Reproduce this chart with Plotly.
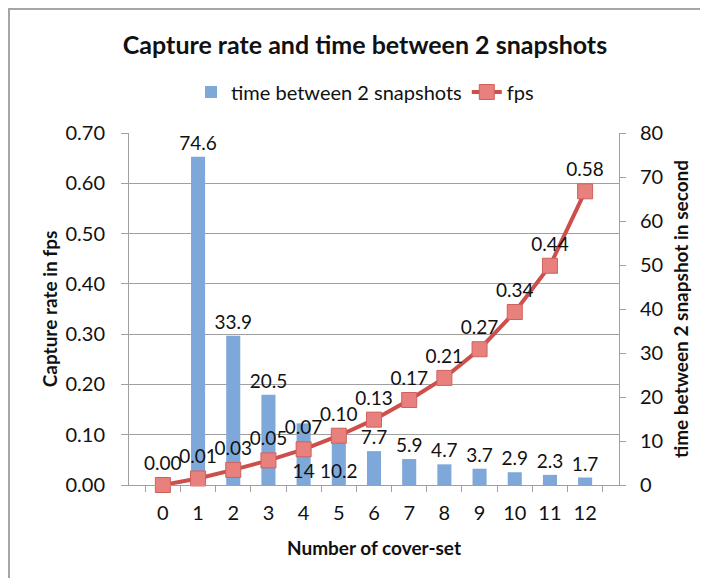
import plotly.graph_objects as go

# data
cover_sets = ["0", "1", "2", "3", "4", "5", "6", "7", "8", "9", "10", "11", "12"]
time_between = [None, 74.6, 33.9, 20.5, 14, 10.2, 7.7, 5.9, 4.7, 3.7, 2.9, 2.3, 1.7]
fps = [0.0, 0.013, 0.030, 0.049, 0.071, 0.098, 0.130, 0.169, 0.213, 0.270, 0.344, 0.436, 0.584]
# Excel pushed two of the bar labels down to the base of the bar
bar_label_pos = ["outside", "outside", "outside", "outside", "inside", "inside",
                 "outside", "outside", "outside", "outside", "outside", "outside", "outside"]

FONT = "Lato"
W, H = 708, 578
# the page adds an 8px body margin, so screen = figure + 8
L, R, T, B = 121, 97, 125, 101

fig = go.Figure()
fig.add_trace(go.Bar(
    x=cover_sets, y=time_between, name="time between 2 snapshots",
    yaxis="y", width=0.4,
    marker=dict(color="#7FA8DA", line=dict(width=0)),
    texttemplate="%{y}", textposition=bar_label_pos, textangle=0,
    insidetextanchor="start", constraintext="none",
    textfont=dict(size=19, color="#111111", family=FONT),
    cliponaxis=False))
fig.add_trace(go.Scatter(
    x=cover_sets, y=fps, name="fps", yaxis="y2",
    mode="lines+markers+text",
    line=dict(color="#CD4F4B", width=4),
    marker=dict(symbol="square", size=15, color="#E8807D",
                line=dict(color="#D0605C", width=1)),
    texttemplate="%{y:.2f}", textposition="top center",
    textfont=dict(size=19, color="#111111", family=FONT),
    cliponaxis=False))

def px_x(x):
    return (x - L) / (W - L - R)

def px_y(y):
    return (H - B - y) / (H - T - B)

fig.update_layout(
    width=W, height=H,
    margin=dict(l=L, r=R, t=T, b=B, pad=0, autoexpand=False),
    paper_bgcolor="white", plot_bgcolor="white",
    font=dict(family=FONT, size=19, color="#111111"),
    title=dict(text="<b>Capture rate and time between 2 snapshots</b>",
               font=dict(size=25, family=FONT, color="#111111"),
               x=357 / W, xanchor="center", y=1 - 37 / H, yanchor="middle",
               xref="container", yref="container"),
    legend=dict(orientation="h", x=px_x(357), xanchor="center",
                y=px_y(84), yanchor="middle", font=dict(size=20),
                bgcolor="rgba(0,0,0,0)", itemwidth=30, tracegroupgap=0),
    showlegend=True,
    bargap=0.6,
    xaxis=dict(type="category", showline=True, linecolor="#A0A0A0", linewidth=1,
               ticks="outside", tickson="boundaries", ticklen=6, tickcolor="#A0A0A0",
               showgrid=False, tickfont=dict(size=20), tickangle=0, automargin=False,
               ticklabelstandoff=10,
               title=dict(text="<b>Number of cover-set</b>", font=dict(size=19), standoff=18)),
    yaxis=dict(side="right", range=[0, 80], dtick=10, showgrid=False,
               showline=True, linecolor="#A0A0A0", linewidth=1,
               ticks="outside", ticklen=6, tickcolor="#A0A0A0",
               tickfont=dict(size=20), zeroline=False, automargin=False,
               ticklabelstandoff=10,
               title=dict(text="<b>time between 2 snapshot in second</b>",
                          font=dict(size=19), standoff=12)),
    yaxis2=dict(overlaying="y", side="left", range=[0, 0.70], dtick=0.1,
                tickformat=".2f", showgrid=True, gridcolor="#A0A0A0", gridwidth=1,
                showline=True, linecolor="#A0A0A0", linewidth=1,
                ticks="outside", ticklen=7, tickcolor="#A0A0A0",
                tickfont=dict(size=20), zeroline=False, automargin=False,
                ticklabelstandoff=12,
                title=dict(text="<b>Capture rate in fps</b>", font=dict(size=19), standoff=2)),
    shapes=[
        dict(type="line", xref="paper", yref="paper", x0=px_x(0), x1=px_x(W),
             y0=px_y(1), y1=px_y(1), line=dict(color="#A6A6A6", width=2)),
        dict(type="line", xref="paper", yref="paper", x0=px_x(1), x1=px_x(1),
             y0=px_y(0), y1=px_y(H), line=dict(color="#A6A6A6", width=2)),
    ],
)

fig.write_html("out.html")
